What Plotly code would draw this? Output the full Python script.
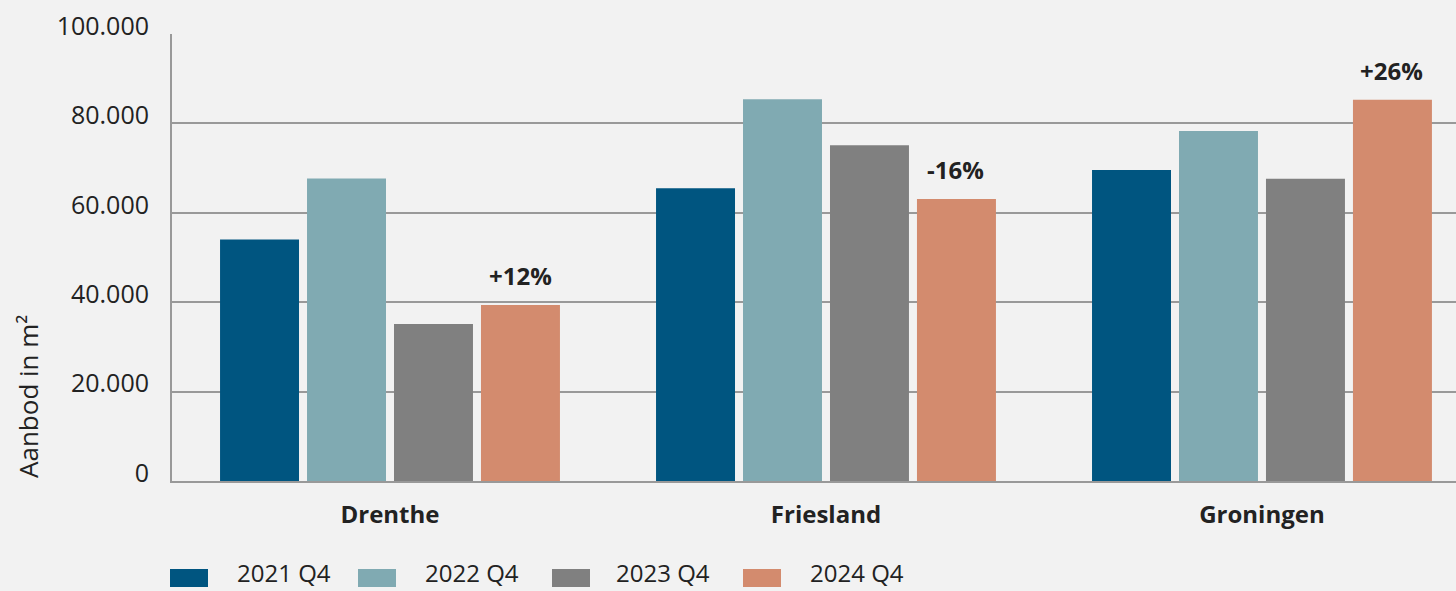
import plotly.graph_objects as go

# data
provincies = ['Drenthe', 'Friesland', 'Groningen']
jaren = ['2021 Q4', '2022 Q4', '2023 Q4', '2024 Q4']
aanbod = {
    '2021 Q4': [54000, 65500, 69600],
    '2022 Q4': [67700, 85400, 78300],
    '2023 Q4': [35100, 75100, 67600],
    '2024 Q4': [39400, 63100, 85300],
}
verschil = ['+12%', '-16%', '+26%']
kleuren = ['#005580', '#80aab2', '#808080', '#d38b6e']

W, H = 1456, 591
L, R, T, B = 172, 0, 34, 110
pw, ph = W - L - R, H - T - B


def px(x):
    return (x - L) / pw


def py(y):
    return (H - B - y) / ph


fig = go.Figure()
for jaar, kleur in zip(jaren, kleuren):
    fig.add_trace(go.Bar(
        x=provincies, y=aanbod[jaar], name=jaar, showlegend=False,
        marker=dict(color=kleur, line=dict(width=0)),
    ))

# percentage labels boven de 2024 balken
for prov, waarde, tekst in zip(provincies, aanbod['2024 Q4'], verschil):
    fig.add_annotation(
        x=prov, y=waarde, text='<b>' + tekst + '</b>', showarrow=False,
        xshift=130, yshift=11, yanchor='bottom',
        font=dict(size=24, color='#222222', family='Open Sans'),
    )

fig.add_annotation(
    xref='paper', yref='paper', x=px(28), y=py(397), text='Aanbod in m²',
    textangle=-90, showarrow=False, xanchor='center', yanchor='middle',
    font=dict(size=26, color='#222222', family='Open Sans'),
)

# legenda (handmatig, grote blokjes)
box_x = [170, 358, 552, 743]
tekst_x = [235, 423, 614, 808]
for jaar, kleur, bx, tx in zip(jaren, kleuren, box_x, tekst_x):
    fig.add_shape(
        type='rect', xref='paper', yref='paper',
        x0=px(bx), x1=px(bx + 38), y0=py(587), y1=py(569),
        fillcolor=kleur, line=dict(width=0),
    )
    fig.add_annotation(
        xref='paper', yref='paper', x=px(tx), y=py(591), text=jaar,
        showarrow=False, xanchor='left', yanchor='bottom',
        font=dict(size=24, color='#222222', family='Open Sans'),
    )

fig.update_layout(
    width=W, height=H,
    paper_bgcolor='#f2f2f2', plot_bgcolor='#f2f2f2',
    margin=dict(l=L, r=R, t=T, b=B),
    separators=',.',
    barmode='group', bargap=0.202, bargroupgap=0.092,
    font=dict(family='Open Sans', color='#222222'),
    showlegend=False,
    xaxis=dict(
        range=[-0.5, 2.445], showgrid=False,
        showline=True, linecolor='#999999', linewidth=2,
        tickfont=dict(size=24, color='#222222', weight=700),
        ticklabelstandoff=11, ticks='',
    ),
    yaxis=dict(
        range=[0, 100000], tickvals=[0, 20000, 40000, 60000, 80000, 100000],
        tickformat=',.0f',
        showgrid=True, gridcolor='#999999', gridwidth=2,
        showline=True, linecolor='#999999', linewidth=2,
        zeroline=False,
        tickfont=dict(size=25, color='#222222'),
        ticklabelstandoff=16, ticklabelshift=-8,
    ),
)

fig.write_html('out.html', config={'displayModeBar': False},
               post_script="document.body.style.margin='0';")
